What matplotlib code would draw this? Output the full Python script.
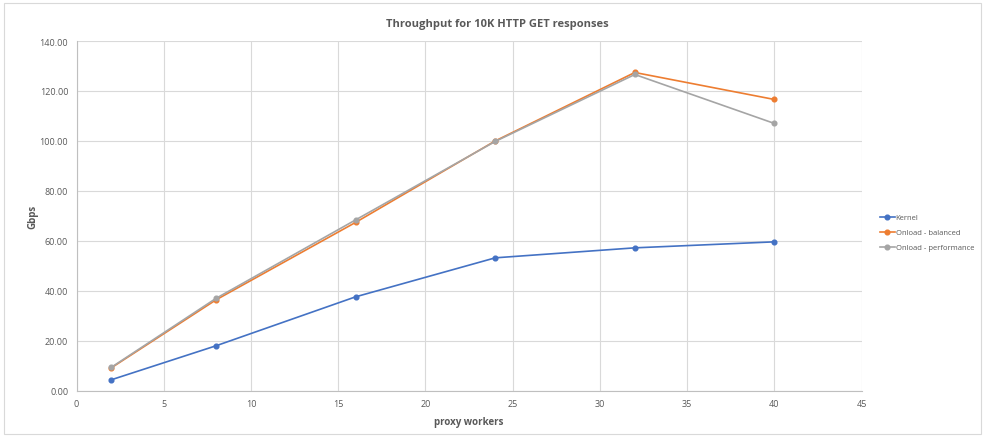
import matplotlib
matplotlib.use('Agg')
import matplotlib.pyplot as plt
from matplotlib.patches import Rectangle

workers = [2, 8, 16, 24, 32, 40]
kernel = [4.4, 18.0, 37.6, 53.2, 57.2, 59.6]
onload_balanced = [9.2, 36.4, 67.4, 100.0, 127.4, 116.6]
onload_performance = [9.4, 37.0, 68.4, 99.8, 126.6, 107.0]

plt.rcParams['font.family'] = ['Open Sans', 'DejaVu Sans']
txt = '#595959'
grid = '#D9D9D9'

fig = plt.figure(figsize=(9.84, 4.39), dpi=100)
ax = fig.add_axes([0.0778, 0.1077, 0.7978, 0.7966])

ax.plot(workers, kernel, color='#4472C4', lw=1.2, marker='o', ms=3.4, label='Kernel')
ax.plot(workers, onload_balanced, color='#ED7D31', lw=1.2, marker='o', ms=3.4, label='Onload - balanced')
ax.plot(workers, onload_performance, color='#A5A5A5', lw=1.2, marker='o', ms=3.4, label='Onload - performance')

ax.set_xlim(0, 45)
ax.set_ylim(0, 140)
ax.set_xticks(range(0, 46, 5))
ax.set_yticks(range(0, 141, 20))
ax.set_yticklabels(['%.2f' % v for v in range(0, 141, 20)])
ax.grid(True, color=grid, lw=0.8)
ax.set_axisbelow(True)
for s in ['top', 'right']:
    ax.spines[s].set_visible(False)
for s in ['left', 'bottom']:
    ax.spines[s].set_color('#BFBFBF')
    ax.spines[s].set_linewidth(0.8)
ax.tick_params(length=0, labelsize=6.5, labelcolor=txt, pad=6)

ax.set_xlabel('proxy workers', fontsize=7, fontweight='bold', color=txt, labelpad=6)
ax.set_ylabel('Gbps', fontsize=7, fontweight='bold', color=txt, labelpad=1)
fig.text(0.505, 0.945, 'Throughput for 10K HTTP GET responses', ha='center', va='center',
         fontsize=8, fontweight='bold', color=txt)

fig.legend(loc='center left', bbox_to_anchor=(0.887, 0.468), frameon=False, fontsize=5.5,
           handlelength=2.0, handletextpad=0.1, labelspacing=1.0, labelcolor=txt)

fig.patches.append(Rectangle((0.004, 0.008), 0.993, 0.983, transform=fig.transFigure,
                             fill=False, edgecolor=grid, lw=0.8))

plt.savefig('out.png', dpi=100)
